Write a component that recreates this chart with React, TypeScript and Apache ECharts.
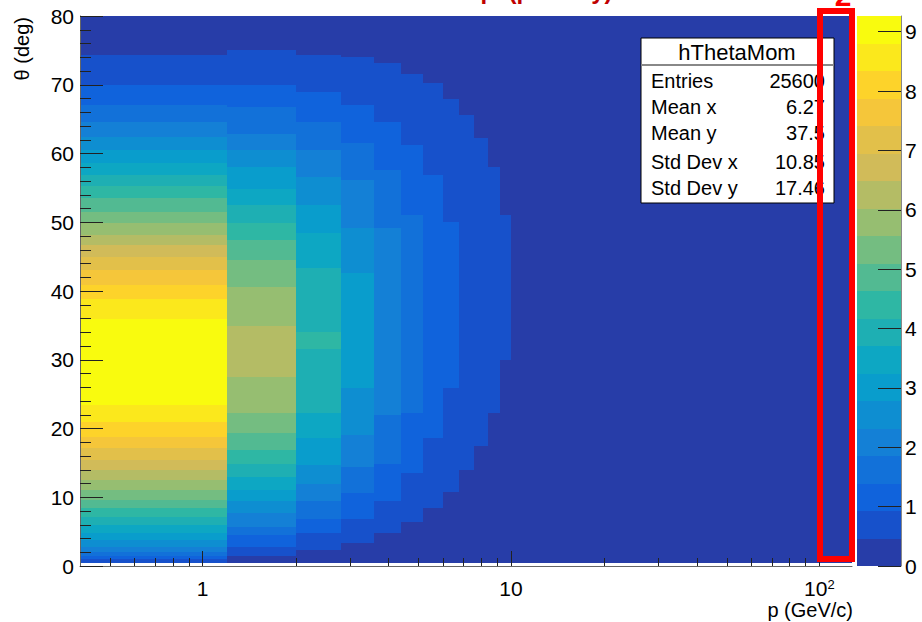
import React, { useEffect, useRef } from 'react';
import * as echarts from 'echarts';

// ---- data ----
const P_EDGES = [0.4, 1.2, 2.0, 2.8, 3.6, 4.4, 5.2, 6.0, 6.8, 7.6, 8.4, 9.2, 10.0];
const X_RANGE = [0.4, 127.6];
const THETA_RANGE = [0, 80];
const Z_MAX = 9.265;
const N_LEVELS = 20;

const COL_THETA_EDGES = [
  [0.4, 1.0, 1.5, 2.1, 2.8, 3.8, 4.8, 6.0, 7.2, 8.4, 9.6, 11.1, 12.5, 14.0, 15.4, 17.1, 18.8, 21.0, 23.4, 36.0, 38.9, 40.9, 43.1, 45.0, 46.7, 48.2, 49.9, 51.5, 53.5, 55.2, 56.9, 58.6, 60.5, 62.4, 64.6, 67.1, 70.0, 74.4],
  [1.4, 2.8, 4.5, 5.7, 7.7, 9.4, 11.1, 13.0, 14.9, 16.9, 19.3, 22.2, 27.5, 34.9, 40.6, 44.5, 47.4, 49.9, 52.5, 54.9, 58.1, 60.5, 62.9, 66.8, 70.0, 75.1],
  [2.4, 4.8, 6.9, 9.4, 12.0, 14.7, 18.6, 22.2, 31.5, 34.0, 43.3, 48.4, 52.5, 56.6, 60.5, 64.6, 69.0, 74.3],
  [3.3, 6.9, 10.6, 14.4, 19.1, 25.9, 42.6, 49.1, 56.2, 61.5, 67.1, 74.1],
  [4.8, 9.4, 14.9, 22.0, 49.1, 57.6, 64.6, 73.1],
  [6.4, 13.5, 22.2, 51.1, 61.2, 71.6],
  [8.4, 18.6, 56.9, 70.2],
  [10.8, 25.9, 50.1, 68.0],
  [14.0, 65.6],
  [17.4, 62.2],
  [22.2, 58.1],
  [30.0, 51.1],
];
const COL_VALUES = [
  [0.7, 1.2, 1.6, 2.1, 2.5, 3.0, 3.5, 3.9, 4.4, 4.9, 5.3, 5.8, 6.3, 6.7, 7.2, 7.6, 8.1, 8.6, 9.1, 8.6, 8.1, 7.6, 7.2, 6.7, 6.3, 5.8, 5.3, 4.9, 4.4, 3.9, 3.5, 3.0, 2.5, 2.1, 1.6, 1.2, 0.7],
  [0.7, 1.2, 1.6, 2.1, 2.5, 3.0, 3.5, 3.9, 4.4, 4.9, 5.3, 5.8, 6.3, 5.8, 5.3, 4.9, 4.4, 3.9, 3.5, 3.0, 2.5, 2.1, 1.6, 1.2, 0.7],
  [0.7, 1.2, 1.6, 2.1, 2.5, 3.0, 3.5, 3.9, 4.4, 3.9, 3.5, 3.0, 2.5, 2.1, 1.6, 1.2, 0.7],
  [0.7, 1.2, 1.6, 2.1, 2.5, 3.0, 2.5, 2.1, 1.6, 1.2, 0.7],
  [0.7, 1.2, 1.6, 2.1, 1.6, 1.2, 0.7],
  [0.7, 1.2, 1.6, 1.2, 0.7],
  [0.7, 1.2, 0.7],
  [0.7, 1.2, 0.7],
  [0.7],
  [0.7],
  [0.7],
  [0.7],
];
// zero-content region, drawn in the lowest colour level
const EMPTY_REGION = [0.4, 127.6, 0.4, 80, 0.2];

const X_LABEL_VALUES = [1, 10, 100];
const X_MINOR_TICKS = [0.5, 0.6, 0.7, 0.8, 0.9, 2, 3, 4, 5, 6, 7, 8, 9, 20, 30, 40, 50, 60, 70, 80, 90];
const Z_TICKS = [0, 1, 2, 3, 4, 5, 6, 7, 8, 9];

const STATS_TITLE = 'hThetaMom';
const STATS_LABELS = ['Entries', 'Mean x', 'Mean y', 'Std Dev x', 'Std Dev y'];
const STATS_VALUES = ['25600', '6.27', '37.5', '10.85', '17.46'];

// kBird palette, 20 contour colours
const PALETTE = [
  '#273da8', '#1751cb', '#1063dc', '#1271d9', '#1480d6', '#0e8ed1', '#099dcc', '#0da7c3', '#1eafb3', '#2eb7a4',
  '#52ba92', '#74bd81', '#96be71', '#b4bc65', '#d1bb59', '#e2c04a', '#f5c63a', '#fdd32a', '#fbe81c', '#f9fb0e',
];

const FONT = '"Liberation Sans", Arial, Helvetica, sans-serif';

export default function App() {
  const ref = useRef<HTMLDivElement>(null);
  useEffect(() => {
    if (!ref.current) return;
    const chart = echarts.init(ref.current, null, { renderer: 'svg' });
    const step = Z_MAX / N_LEVELS;

    const heatData: number[][] = [EMPTY_REGION];
    COL_THETA_EDGES.forEach((edges, i) => {
      for (let j = 0; j < edges.length - 1; j++) {
        heatData.push([P_EDGES[i], P_EDGES[i + 1], edges[j], edges[j + 1], COL_VALUES[i][j]]);
      }
    });
    const barData: number[][] = PALETTE.map((_, i) => [0, 1, i * step, (i + 1) * step, (i + 0.5) * step]);
    const pieces = PALETTE.map((c, i) =>
      i === PALETTE.length - 1 ? { gte: i * step, lte: Z_MAX + 1, color: c } : { gte: i * step, lt: (i + 1) * step, color: c }
    );

    const rectItem = (params: any, api: any) => {
      const p0 = api.coord([api.value(0), api.value(2)]);
      const p1 = api.coord([api.value(1), api.value(3)]);
      const x0 = Math.round(p0[0]);
      const x1 = Math.round(p1[0]);
      const y0 = Math.round(p0[1]);
      const y1 = Math.round(p1[1]);
      return {
        type: 'rect',
        shape: { x: x0, y: y1, width: x1 - x0, height: y0 - y1 },
        style: { fill: api.visual('color') },
      };
    };

    const xFormatter = (v: number) => {
      if (Math.abs(v - 100) < 1e-6) return '{b|10}{s|2}';
      if (Math.abs(v - 10) < 1e-6) return '{b|10}';
      if (Math.abs(v - 1) < 1e-6) return '{b|1}';
      return '';
    };

    const ys = [81, 107, 133, 162, 188];
    const rows = STATS_LABELS.map((lab, i) => [
      { type: 'text', x: 651, y: ys[i], z: 101, style: { text: lab, fontSize: 20, fontFamily: FONT, fill: '#000', align: 'left', verticalAlign: 'middle' } },
      { type: 'text', x: 825, y: ys[i], z: 101, style: { text: STATS_VALUES[i], fontSize: 20, fontFamily: FONT, fill: '#000', align: 'right', verticalAlign: 'middle' } },
    ]).flat();

    chart.setOption({
      animation: false,
      backgroundColor: '#ffffff',
      textStyle: { fontFamily: FONT },
      grid: [
        { left: 80, top: 16, width: 772, height: 550 },
        { left: 857, top: 16, width: 44, height: 550 },
      ],
      xAxis: [
        {
          type: 'log', logBase: 10, gridIndex: 0, min: X_RANGE[0], max: X_RANGE[1], z: 10,
          axisLine: { show: true, onZero: false, lineStyle: { color: '#666', width: 1 } },
          axisTick: { show: true, inside: true, length: 15, customValues: X_LABEL_VALUES, lineStyle: { color: '#222', width: 1 } },
          axisLabel: {
            show: true, customValues: X_LABEL_VALUES, formatter: xFormatter, margin: 12, color: '#000',
            rich: {
              b: { fontSize: 21, lineHeight: 21, fontFamily: FONT, color: '#000' },
              s: { fontSize: 13, lineHeight: 13, fontFamily: FONT, color: '#000', verticalAlign: 'top' },
            },
          },
          splitLine: { show: false }, minorTick: { show: false }, minorSplitLine: { show: false },
        },
        { type: 'value', gridIndex: 1, min: 0, max: 1, show: false },
      ],
      yAxis: [
        {
          type: 'value', gridIndex: 0, min: THETA_RANGE[0], max: THETA_RANGE[1], interval: 10, z: 10,
          axisLine: { show: true, onZero: false, lineStyle: { color: '#666', width: 1 } },
          axisTick: { show: true, inside: true, length: 23, lineStyle: { color: '#222', width: 1 } },
          minorTick: { show: true, splitNumber: 5, length: 11, lineStyle: { color: '#222', width: 1 } },
          axisLabel: { fontSize: 21, color: '#000', margin: 6, fontFamily: FONT },
          splitLine: { show: false },
        },
        {
          type: 'value', gridIndex: 1, min: 0, max: Z_MAX, position: 'right', z: 10,
          axisLine: { show: true, onZero: false, lineStyle: { color: '#888', width: 1 } },
          axisTick: { show: true, inside: true, length: 23, customValues: Z_TICKS, lineStyle: { color: '#222', width: 1 } },
          axisLabel: { customValues: Z_TICKS, fontSize: 21, color: '#000', margin: 4, fontFamily: FONT },
          splitLine: { show: false },
        },
      ],
      visualMap: {
        type: 'piecewise', show: false, dimension: 4, seriesIndex: [0, 1], pieces,
      },
      series: [
        {
          type: 'custom', xAxisIndex: 0, yAxisIndex: 0, renderItem: rectItem, data: heatData,
          encode: { x: [0, 1], y: [2, 3] }, z: 2, silent: true,
        },
        {
          type: 'custom', xAxisIndex: 1, yAxisIndex: 1, renderItem: rectItem, data: barData,
          encode: { x: [0, 1], y: [2, 3] }, z: 2, silent: true,
        },
        {
          type: 'custom', xAxisIndex: 0, yAxisIndex: 0, z: 5, silent: true,
          data: X_MINOR_TICKS.map((v) => [v, THETA_RANGE[0]]), encode: { x: 0, y: 1 },
          renderItem: (params: any, api: any) => {
            const p = api.coord([api.value(0), api.value(1)]);
            const x = Math.round(p[0]) + 0.5;
            return { type: 'line', shape: { x1: x, y1: p[1], x2: x, y2: p[1] - 8 }, style: { stroke: '#222', lineWidth: 1 } };
          },
        },
      ],
      graphic: [
        { type: 'text', x: 520, y: 2, z: 100, style: { text: 'θ vs p  (primary)', fontSize: 24, fontWeight: 'bold', fontFamily: FONT, fill: '#c00000', align: 'center', verticalAlign: 'bottom' } },
        { type: 'text', x: 22, y: 17, rotation: Math.PI / 2, z: 100, style: { text: 'θ (deg)', fontSize: 20, fontFamily: FONT, fill: '#000', align: 'right', verticalAlign: 'middle' } },
        { type: 'text', x: 853, y: 610, z: 100, style: { text: 'p (GeV/c)', fontSize: 20, fontFamily: FONT, fill: '#000', align: 'right', verticalAlign: 'middle' } },
        { type: 'rect', z: 100, shape: { x: 641, y: 38, width: 193, height: 165 }, style: { fill: '#fff', stroke: '#000', lineWidth: 1 } },
        { type: 'line', z: 101, shape: { x1: 641, y1: 65, x2: 834, y2: 65 }, style: { stroke: '#888', lineWidth: 2 } },
        { type: 'text', x: 737, y: 52, z: 101, style: { text: STATS_TITLE, fontSize: 22, fontFamily: FONT, fill: '#000', align: 'center', verticalAlign: 'middle' } },
        ...rows,
        { type: 'rect', z: 200, shape: { x: 820, y: 11, width: 32, height: 548 }, style: { fill: 'none', stroke: '#ff0000', lineWidth: 6 } },
        { type: 'text', x: 843, y: 10, z: 200, style: { text: '2', fontSize: 30, fontWeight: 'bold', fontFamily: FONT, fill: '#ff0000', align: 'center', verticalAlign: 'bottom' } },
      ],
    });
    return () => chart.dispose();
  }, []);
  return <div ref={ref} style={{ position: 'fixed', left: 0, top: 0, width: 922, height: 622 }} />;
}
